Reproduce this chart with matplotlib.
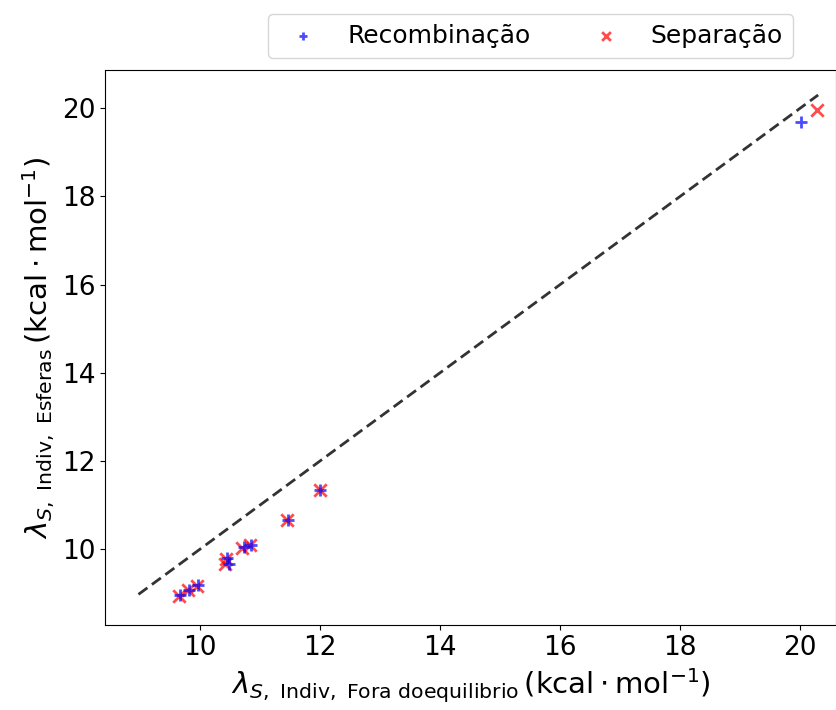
import matplotlib
matplotlib.use("Agg")
import matplotlib.pyplot as plt
import numpy as np

# dados
x_recomb = [9.67, 9.81, 9.96, 10.44, 10.48, 10.73, 10.84, 11.46, 12.0, 20.02]
y_recomb = [8.96, 9.08, 9.18, 9.79, 9.66, 10.04, 10.09, 10.66, 11.34, 19.69]

x_separ = [9.65, 9.80, 9.94, 10.43, 10.41, 10.70, 10.83, 11.45, 12.0, 20.28]
y_separ = [8.94, 9.07, 9.17, 9.78, 9.67, 10.03, 10.10, 10.66, 11.33, 19.97]

line_lims = [8.97, 20.3]

fig, ax = plt.subplots(figsize=(8.37, 7.1), dpi=100)

ax.plot(line_lims, line_lims, '--', color='#333333', lw=2, dashes=(4, 2))
ax.scatter(x_recomb, y_recomb, marker='+', color='blue', alpha=0.7, s=80, lw=2,
           label='Recombinação', zorder=3)
ax.scatter(x_separ, y_separ, marker='x', color='red', alpha=0.7, s=80, lw=2,
           label='Separação', zorder=2)

ax.set_xlim(8.42, 20.6)
ax.set_ylim(8.28, 20.86)
ax.set_xticks([10, 12, 14, 16, 18, 20])
ax.set_yticks([10, 12, 14, 16, 18, 20])
ax.tick_params(labelsize=19)

ax.set_xlabel(r'$\lambda_{S,\ \mathrm{Indiv,\ Fora\ do equilibrio}}\,(\mathrm{kcal \cdot mol^{-1}})$', fontsize=21)
ax.set_ylabel(r'$\lambda_{S,\ \mathrm{Indiv,\ Esferas}}\,(\mathrm{kcal \cdot mol^{-1}})$', fontsize=21)

ax.legend(loc='lower right', bbox_to_anchor=(0.941, 1.023), ncol=2, fontsize=18,
          handletextpad=0.8, columnspacing=2.0, borderaxespad=0, markerscale=0.7)

fig.subplots_adjust(left=0.126, right=0.999, top=0.901, bottom=0.12)
fig.savefig('out.png')
